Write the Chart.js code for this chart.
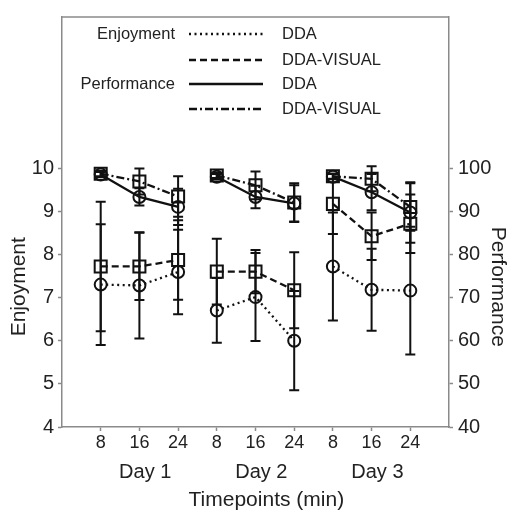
<!DOCTYPE html>
<html><head><meta charset="utf-8">
<script src="https://cdn.jsdelivr.net/npm/chart.js@4/dist/chart.umd.min.js"></script>
<style>html,body{margin:0;padding:0;background:#fff}#wrap{width:509px;height:511px}</style>
</head><body><div id="wrap"><canvas id="c" width="509" height="511"></canvas></div>
<script>
// ---- data ----
const xPositions = [1,2,3,4,5,6,7,8,9];
const timepointLabels = ['8','16','24','8','16','24','8','16','24'];
const dayLabels = ['Day 1','Day 2','Day 3'];
const dayCenters = [2,5,8];
const enjoyTicks = [4,5,6,7,8,9,10];
const perfTicks = [40,50,60,70,80,90,100];

const enjoyDDA      = [7.30, 7.28, 7.59, 6.70, 7.01, 6.00, 7.72, 7.18, 7.16];
const enjoyDDA_sd   = [1.40, 1.23, 0.98, 0.75, 1.02, 1.15, 1.25, 0.95, 1.48];
const enjoyVIS      = [7.72, 7.72, 7.87, 7.60, 7.60, 7.17, 9.17, 8.42, 8.71];
const enjoyVIS_sd   = [1.50, 0.78, 0.92, 0.76, 0.50, 0.88, 0.70, 0.55, 0.68];
const perfDDA       = [98.5, 93.3, 91.0, 98.0, 93.3, 91.8, 98.0, 94.4, 89.7];
const perfDDA_sd    = [0.6, 2.0, 4.2, 0.6, 2.6, 4.2, 0.6, 4.2, 7.0];
const perfVIS       = [98.7, 96.9, 93.4, 98.3, 96.0, 92.0, 98.1, 97.5, 91.0];
const perfVIS_sd    = [0.6, 3.0, 4.7, 0.6, 3.2, 4.5, 0.6, 2.9, 5.5];

// ---- helpers ----
const FONT = "'Liberation Sans', Arial, sans-serif";
const TXT = '#222';
const AX = '#8a8a8a';
function withGaps(vals){
  const out = [];
  vals.forEach((v,i)=>{
    out.push({x:xPositions[i], y:v});
    if (i===2 || i===5) out.push({x:xPositions[i]+0.5, y:null});
  });
  return out;
}
function ds(label, vals, axis, dash, style, radius){
  return {label, data: withGaps(vals), yAxisID: axis, borderColor:'#111', borderWidth:2.3,
    borderDash: dash, pointStyle: style, pointRadius: radius, pointBorderWidth:2,
    pointBorderColor:'#111', pointBackgroundColor:'rgba(0,0,0,0)', spanGaps:false, tension:0};
}
const errSeries = [
  {vals: enjoyDDA, sd: enjoyDDA_sd, axis:'y'},
  {vals: enjoyVIS, sd: enjoyVIS_sd, axis:'y'},
  {vals: perfDDA, sd: perfDDA_sd, axis:'y2'},
  {vals: perfVIS, sd: perfVIS_sd, axis:'y2'}
];

const errorBars = {
  id:'errorBars',
  afterDatasetsDraw(chart){
    const ctx = chart.ctx, xs = chart.scales.x;
    ctx.save();
    ctx.strokeStyle = '#111'; ctx.lineWidth = 2; ctx.setLineDash([]);
    errSeries.forEach(s=>{
      const ys = chart.scales[s.axis];
      s.vals.forEach((v,i)=>{
        const x = xs.getPixelForValue(xPositions[i]);
        const t = ys.getPixelForValue(v + s.sd[i]);
        const b = ys.getPixelForValue(v - s.sd[i]);
        ctx.beginPath();
        ctx.moveTo(x,t); ctx.lineTo(x,b);
        ctx.moveTo(x-5,t); ctx.lineTo(x+5,t);
        ctx.moveTo(x-5,b); ctx.lineTo(x+5,b);
        ctx.stroke();
      });
    });
    ctx.restore();
  }
};

const decor = {
  id:'decor',
  afterDraw(chart){
    const ctx = chart.ctx, ca = chart.chartArea, xs = chart.scales.x, ys = chart.scales.y;
    ctx.save();
    // top frame line
    ctx.strokeStyle = AX; ctx.lineWidth = 1.5;
    ctx.beginPath(); ctx.moveTo(ca.left, ca.top); ctx.lineTo(ca.right, ca.top); ctx.stroke();
    // day labels and axis title
    ctx.fillStyle = TXT; ctx.textAlign='center'; ctx.textBaseline='middle';
    ctx.font = '20px ' + FONT;
    dayLabels.forEach((d,i)=>{
      ctx.fillText(d, xs.getPixelForValue(dayCenters[i]+0.15), ca.bottom + 45);
    });
    ctx.font = '21px ' + FONT;
    ctx.fillText('Timepoints (min)', xs.getPixelForValue(5.28), ca.bottom + 73);
    // y axis titles (centred a bit below the middle of the tick range)
    const ty = ys.getPixelForValue(7.25);
    ctx.save(); ctx.translate(19, ty); ctx.rotate(-Math.PI/2);
    ctx.fillText('Enjoyment', 0, 0); ctx.restore();
    ctx.save(); ctx.translate(498, ty); ctx.rotate(Math.PI/2);
    ctx.fillText('Performance', 0, 0); ctx.restore();
    // legend
    const rows = [
      {grp:'Enjoyment', dash:[2,3.5], lab:'DDA', dy:17},
      {grp:'', dash:[7,4], lab:'DDA-VISUAL', dy:43},
      {grp:'Performance', dash:[], lab:'DDA', dy:67},
      {grp:'', dash:[8,3,2,3], lab:'DDA-VISUAL', dy:92}
    ];
    ctx.font = '16.5px ' + FONT;
    rows.forEach(r=>{
      const y = ca.top + r.dy;
      ctx.textAlign='right'; ctx.fillStyle = TXT;
      if (r.grp) ctx.fillText(r.grp, ca.left + 113, y);
      ctx.strokeStyle = '#111'; ctx.lineWidth = 2.3; ctx.setLineDash(r.dash);
      ctx.beginPath(); ctx.moveTo(ca.left+127, y); ctx.lineTo(ca.left+201, y); ctx.stroke();
      ctx.setLineDash([]);
      ctx.textAlign='left';
      ctx.fillText(r.lab, ca.left + 220, y);
    });
    ctx.restore();
  }
};

const gridOpts = {drawOnChartArea:false, drawTicks:true, tickLength:4, color:AX, tickColor:AX, tickWidth:1.5};

new Chart(document.getElementById('c'), {
  type:'line',
  data:{datasets:[
    ds('Enjoyment DDA', enjoyDDA, 'y', [2,3.5], 'circle', 6),
    ds('Enjoyment DDA-VISUAL', enjoyVIS, 'y', [7,4], 'rect', 8.5),
    ds('Performance DDA', perfDDA, 'y2', [], 'circle', 6),
    ds('Performance DDA-VISUAL', perfVIS, 'y2', [8,3,2,3], 'rect', 8.5)
  ]},
  options:{
    responsive:false, animation:false, devicePixelRatio:1,
    layout:{padding:{top:13,left:0,right:0,bottom:0}},
    plugins:{legend:{display:false}, title:{display:false}, tooltip:{enabled:false}},
    scales:{
      x:{type:'linear', position:'bottom', min:0, max:10,
        afterBuildTicks(s){ s.ticks = xPositions.map(v=>({value:v})); },
        ticks:{callback:(v)=>timepointLabels[xPositions.indexOf(v)], font:{size:18, family:FONT}, color:TXT, padding:1, maxRotation:0, autoSkip:false},
        grid:gridOpts, border:{color:AX, width:1.5},
        afterFit(s){ s.height = 84; }
      },
      y:{type:'linear', position:'left', min:4, max:13.5,
        afterBuildTicks(s){ s.ticks = enjoyTicks.map(v=>({value:v})); },
        ticks:{font:{size:20, family:FONT}, color:TXT, padding:4},
        grid:gridOpts, border:{color:AX, width:1.5},
        afterFit(s){ s.width = 62; }
      },
      y2:{type:'linear', position:'right', min:40, max:135,
        afterBuildTicks(s){ s.ticks = perfTicks.map(v=>({value:v})); },
        ticks:{font:{size:20, family:FONT}, color:TXT, padding:5},
        grid:gridOpts, border:{color:AX, width:1.5},
        afterFit(s){ s.width = 60; }
      }
    }
  },
  plugins:[errorBars, decor]
});
</script></body></html>
